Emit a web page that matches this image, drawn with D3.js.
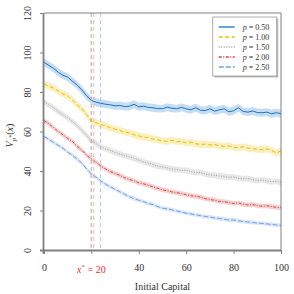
<!DOCTYPE html>
<html>
<head>
<meta charset="utf-8">
<script src="https://cdn.jsdelivr.net/npm/d3@7"></script>
<style>
  body { margin: 0; background: #fff; }
  svg { font-family: 'Liberation Serif', 'DejaVu Serif', serif; }
  .axis path, .axis line { stroke: #808080; }
  .axis text { fill: #333; font-size: 10px; font-family: 'Liberation Serif', serif; }
</style>
</head>
<body>
<svg id="chart" width="294" height="294"></svg>
<script>
const xs = d3.range(0, 101, 2);
const pLabels = ['0.50', '1.00', '1.50', '2.00', '2.50'];
const colors = ['#1a74c6', '#e8c000', '#a0a0a0', '#d84444', '#6fa0e6'];
const dashes = [null, '4,2.5', '1,1.5', '3,1.5,1,1.5', '5,2'];
const bandHalf = [2, 1.8, 1.5, 1.2, 1];
const xStar = [19.9, 21, 23.9];
const xStarColors = ['#b9a49a', '#f0b4bc', '#aec8f2'];
const xTicks = [0, 20, 40, 60, 80, 100];
const yTicks = [0, 20, 40, 60, 80, 100, 120];

const vBlue = [95, 93.5, 92, 90, 88.5, 87.5, 85.5, 83.5, 81, 78, 75.8, 74.8, 74.3, 73.8, 73.5, 73, 73.2, 72.6, 72.8, 73.8, 72.5,
  72.8, 72.2, 72, 71.6, 71.6, 72.3, 71.8, 71.5, 72.2, 71.5, 71, 72, 70.8, 70.6, 71.5, 70.3, 71, 71.5, 70, 70.5,
  72, 70.2, 69.8, 70.4, 69.6, 69.5, 69.8, 69, 69.5, 69];
const vYellow = [84, 83, 82, 80.5, 79, 78, 76, 73.5, 71.5, 68.5, 65.2, 64.4, 63.6, 62.8, 61.8, 61.2, 60.5, 59.8, 59.2, 58.4, 57.8,
  57.2, 57, 56.2, 55.8, 55.3, 55, 55.5, 54.8, 55, 54.2, 54.6, 53.8, 53.5, 53.6, 53.2, 53.4, 52.8, 52.5, 52.7, 52,
  51.8, 52.3, 51.5, 51.3, 51, 50.8, 51.2, 50.5, 49, 50.3];
const vGray = [75, 73.5, 72, 70, 68.5, 67, 65, 63, 60.5, 58, 55.3, 53.8, 52.2, 51.2, 50.4, 49.4, 48.6, 47.8, 47.2, 46.5, 45.5,
  44.6, 44, 43.2, 42.5, 42, 41.6, 41, 40.8, 40.3, 40.4, 39.6, 39.2, 39.3, 38.5, 38, 37.8, 37.5, 37.2, 36.8, 37,
  36.3, 36, 36.2, 35.6, 35.2, 35.5, 35, 34.6, 34.8, 34.2];
const vRed = [65.5, 64, 62, 60, 58.3, 56.5, 55, 52.5, 50.5, 48, 46, 44.5, 42.5, 41, 39.7, 38.8, 37.8, 36.6, 35.8, 35, 34,
  33.5, 32.8, 32, 31.2, 30.5, 30, 29.4, 29, 28.6, 28, 27.5, 27.2, 26.8, 26, 25.6, 25.2, 24.6, 24.5, 24, 23.6,
  23.8, 23.2, 22.8, 23, 22.5, 22.2, 22.4, 22, 21.6, 21.5];
const vLightBlue = [57.5, 56, 54.5, 53, 51.5, 49.5, 48, 46, 44, 41, 38.5, 36.8, 35, 33.3, 32, 30.7, 29.5, 28.2, 27, 26, 25.2,
  24.5, 23.5, 23, 22, 21.2, 20.8, 20.3, 19.8, 19.2, 18.6, 18.3, 17.8, 17.4, 17, 16.7, 16.2, 16, 15.6, 15.2, 15.2,
  14.8, 14.4, 14.2, 13.9, 13.6, 13.5, 13.2, 13, 12.7, 12.5];
const series = [vBlue, vYellow, vGray, vRed, vLightBlue];

const margin = { top: 13, right: 13, bottom: 44, left: 44 };
const width = 294 - margin.left - margin.right;
const height = 294 - margin.top - margin.bottom;

const svg = d3.select('#chart')
  .append('g')
  .attr('transform', `translate(${margin.left},${margin.top})`);

const xScale = d3.scaleLinear().domain([0, 100]).range([0, width]);
const yScale = d3.scaleLinear().domain([0, 120]).range([height, 0]);

svg.append('defs').append('clipPath').attr('id', 'clip')
  .append('rect').attr('width', width).attr('height', height);

const plot = svg.append('g').attr('clip-path', 'url(#clip)');

// confidence bands, then the lines on top
series.forEach((vals, k) => {
  const area = d3.area()
    .x((d, i) => xScale(xs[i]))
    .y0(d => yScale(d - bandHalf[k]))
    .y1(d => yScale(d + bandHalf[k]));
  plot.append('path')
    .attr('d', area(vals))
    .attr('fill', colors[k])
    .attr('fill-opacity', 0.25);
});

series.forEach((vals, k) => {
  const line = d3.line().x((d, i) => xScale(xs[i])).y(d => yScale(d));
  plot.append('path')
    .attr('d', line(vals))
    .attr('fill', 'none')
    .attr('stroke', colors[k])
    .attr('stroke-width', 1)
    .attr('stroke-dasharray', dashes[k]);
});

plot.selectAll('line.xstar')
  .data(xStar)
  .enter().append('line')
  .attr('class', 'xstar')
  .attr('x1', d => xScale(d)).attr('x2', d => xScale(d))
  .attr('y1', 0).attr('y2', height)
  .attr('stroke', (d, i) => xStarColors[i])
  .attr('stroke-width', 1)
  .attr('stroke-dasharray', '4,3');

// frame
svg.append('line').attr('x1', 0).attr('x2', width).attr('y1', 0).attr('y2', 0)
  .attr('stroke', '#808080').attr('stroke-width', 1);
svg.append('line').attr('x1', width).attr('x2', width).attr('y1', 0).attr('y2', height)
  .attr('stroke', '#808080').attr('stroke-width', 1);

const axisX = d3.axisBottom(xScale)
  .tickValues(xTicks)
  .tickSizeInner(4)
  .tickSizeOuter(0)
  .tickPadding(10)
  .tickFormat(d => d === 20 ? '' : d);

const gx = svg.append('g')
  .attr('class', 'axis x')
  .attr('transform', `translate(0,${height})`)
  .call(axisX);
gx.select('.domain').attr('stroke-width', 1.8).attr('d', `M-4,0.5H${width}`);

const starLabel = gx.append('text')
  .attr('x', xScale(20))
  .attr('y', 23)
  .attr('text-anchor', 'middle')
  .style('fill', '#f03030')
  .style('font-size', '10px');
starLabel.append('tspan').style('font-style', 'italic').text('x');
starLabel.append('tspan').attr('dy', -4).style('font-size', '7px').text('*');
starLabel.append('tspan').attr('dy', 4).text(' = 20');

const axisY = d3.axisLeft(yScale)
  .tickValues(yTicks)
  .tickSizeInner(4)
  .tickSizeOuter(0)
  .tickPadding(4);

const gy = svg.append('g')
  .attr('class', 'axis y')
  .call(axisY);
gy.select('.domain').attr('stroke-width', 1.8).attr('d', `M-0.5,${height + 4}V0`);
gy.selectAll('.tick text')
  .attr('x', null).attr('dy', null)
  .attr('text-anchor', 'middle')
  .attr('transform', 'translate(-17,0) rotate(-90)')
  .attr('dy', '0.35em');

svg.append('text')
  .attr('x', width / 2)
  .attr('y', height + 40)
  .attr('text-anchor', 'middle')
  .style('font-size', '10px')
  .style('fill', '#333')
  .text('Initial Capital');

const yLabel = svg.append('text')
  .attr('transform', `translate(-31,${height / 2 + 4}) rotate(-90)`)
  .attr('text-anchor', 'middle')
  .style('font-size', '10px')
  .style('fill', '#333');
yLabel.append('tspan').style('font-style', 'italic').text('V');
yLabel.append('tspan').attr('dy', 3).style('font-size', '7px').style('font-style', 'italic').text('p');
yLabel.append('tspan').attr('dy', -3).style('font-size', '6px').text('*');
yLabel.append('tspan').attr('dy', 0).text('(');
yLabel.append('tspan').style('font-style', 'italic').text('x');
yLabel.append('tspan').text(')');

// legend
const legend = svg.append('g').attr('transform', `translate(${xScale(71.2)},4)`);
legend.append('rect')
  .attr('x', 1.5).attr('y', 1.5)
  .attr('width', 64).attr('height', 59)
  .attr('fill', '#bbb');
legend.append('rect')
  .attr('width', 64).attr('height', 59)
  .attr('fill', '#fff')
  .attr('stroke', '#999')
  .attr('stroke-width', 0.8);

const rows = legend.selectAll('g.row')
  .data(pLabels)
  .enter().append('g')
  .attr('class', 'row')
  .attr('transform', (d, i) => `translate(0,${10 + i * 10})`);

rows.append('line')
  .attr('x1', 6).attr('x2', 22)
  .attr('stroke', (d, i) => colors[i])
  .attr('stroke-width', 1.3)
  .attr('stroke-dasharray', (d, i) => dashes[i]);

const lt = rows.append('text')
  .attr('x', 30).attr('dy', '0.32em')
  .style('font-size', '8px')
  .style('fill', '#333');
lt.append('tspan').style('font-style', 'italic').text('p');
lt.append('tspan').text(d => ' = ' + d);
</script>
</body>
</html>
